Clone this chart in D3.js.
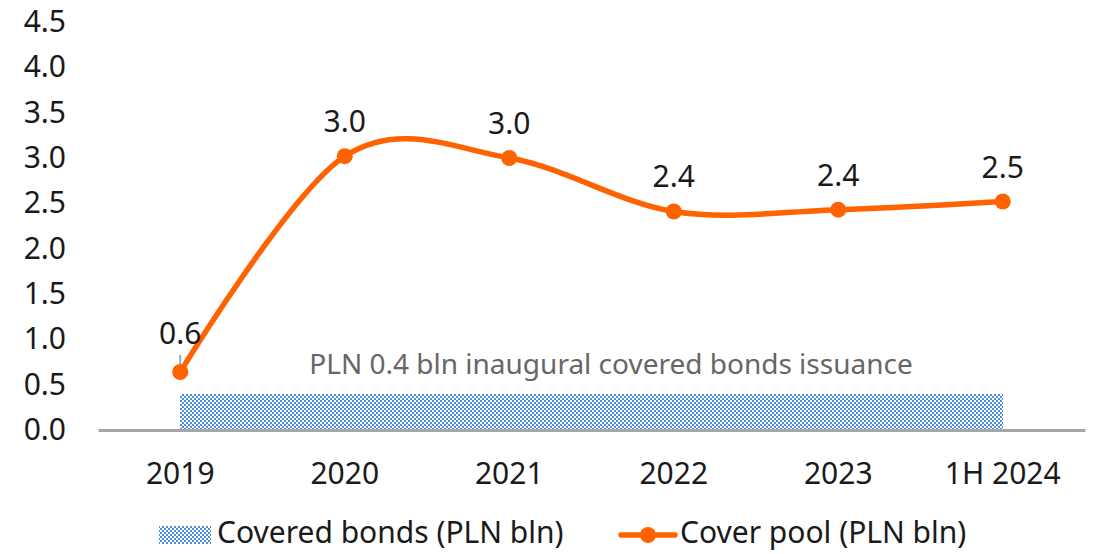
<!DOCTYPE html>
<html>
<head>
<meta charset="utf-8">
<script src="https://cdn.jsdelivr.net/npm/d3@7"></script>
<style>
  html, body { margin: 0; padding: 0; background: #fff; }
  svg { display: block; font-family: "Noto Sans", "Open Sans", sans-serif; }
</style>
</head>
<body>
<svg id="chart" width="1096" height="554"></svg>
<script>
// Cover pool vs covered bonds outstanding (PLN bln)
const categories = ["2019", "2020", "2021", "2022", "2023", "1H 2024"];
const coverPool = [0.64, 3.02, 3.0, 2.41, 2.43, 2.52];
const coveredBonds = [0.4, 0.4, 0.4, 0.4, 0.4, 0.4];
const yTicks = [0, 0.5, 1.0, 1.5, 2.0, 2.5, 3.0, 3.5, 4.0, 4.5];
const noteText = "PLN 0.4 bln inaugural covered bonds issuance";
const legendLabels = ["Covered bonds (PLN bln)", "Cover pool (PLN bln)"];

const ORANGE = "#FF6200";
const BLUE = "#4A8FD8";
const TEXT = "#1a1a1a";

const svg = d3.select("#chart");
const margin = { left: 98, right: 11 };
const W = 1096;

const x = d3.scaleBand().domain(categories).range([margin.left, W - margin.right]);
const xc = d => x(d) + x.bandwidth() / 2;
const y = d3.scaleLinear().domain([0, 4.5]).range([430, 22]);

// checkerboard fill for the covered bonds area (2px cells)
const defs = svg.append("defs");
const pat = defs.append("pattern")
  .attr("id", "checker").attr("patternUnits", "userSpaceOnUse")
  .attr("width", 4).attr("height", 4);
pat.append("rect").attr("width", 4).attr("height", 4).attr("fill", "#ffffff").attr("shape-rendering", "crispEdges");
pat.append("rect").attr("x", 0).attr("y", 0).attr("width", 2).attr("height", 2).attr("fill", BLUE).attr("shape-rendering", "crispEdges");
pat.append("rect").attr("x", 2).attr("y", 2).attr("width", 2).attr("height", 2).attr("fill", BLUE).attr("shape-rendering", "crispEdges");

// y axis labels
const yAxis = d3.axisLeft(y).tickValues(yTicks).tickFormat(d3.format(".1f")).tickSize(0).tickPadding(0);
const gy = svg.append("g").attr("transform", "translate(66,0)").call(yAxis);
gy.select(".domain").remove();
gy.selectAll("text").attr("font-size", 30).attr("fill", TEXT).attr("font-family", "Noto Sans, sans-serif");

// covered bonds area
const area = d3.area()
  .x(d => xc(d.c))
  .y0(y(0))
  .y1(d => y(d.v));
svg.append("path")
  .datum(categories.map((c, i) => ({ c, v: coveredBonds[i] })))
  .attr("d", area)
  .attr("fill", "url(#checker)")
  .attr("shape-rendering", "crispEdges");

// x axis
const xAxis = d3.axisBottom(x).tickSize(0).tickPadding(33);
const gx = svg.append("g").attr("transform", `translate(0,${y(0)})`).call(xAxis);
gx.select(".domain").attr("stroke", "#a6a6a6").attr("stroke-width", 3);
gx.selectAll("text").attr("font-size", 30).attr("fill", TEXT).attr("font-family", "Noto Sans, sans-serif");

// annotation
svg.append("text")
  .attr("x", 611).attr("y", 374)
  .attr("text-anchor", "middle")
  .attr("font-size", 28).attr("fill", "#666666")
  .text(noteText);

// cover pool line
const pts = categories.map((c, i) => ({ c, v: coverPool[i] }));
const line = d3.line().x(d => xc(d.c)).y(d => y(d.v)).curve(d3.curveCardinal.tension(0));
svg.append("path").datum(pts).attr("d", line)
  .attr("fill", "none").attr("stroke", ORANGE).attr("stroke-width", 5.5).attr("stroke-linecap", "round");

// leader for the first label
svg.append("line")
  .attr("x1", xc(categories[0])).attr("x2", xc(categories[0]))
  .attr("y1", y(coverPool[0]) - 17).attr("y2", y(coverPool[0]) - 1)
  .attr("stroke", "#a6a6a6").attr("stroke-width", 2);

svg.selectAll("circle.pt").data(pts).enter().append("circle")
  .attr("class", "pt")
  .attr("cx", d => xc(d.c)).attr("cy", d => y(d.v)).attr("r", 8)
  .attr("fill", ORANGE);

// value labels
const labelOffset = [-28, -24, -24, -24, -24, -24];
svg.selectAll("text.val").data(pts).enter().append("text")
  .attr("class", "val")
  .attr("x", d => xc(d.c))
  .attr("y", (d, i) => y(d.v) + labelOffset[i])
  .attr("text-anchor", "middle")
  .attr("font-size", 30).attr("fill", TEXT)
  .text(d => d3.format(".1f")(d.v));

// legend
const lg = svg.append("g");
lg.append("rect").attr("x", 159).attr("y", 526).attr("width", 52).attr("height", 18)
  .attr("fill", "url(#checker)").attr("shape-rendering", "crispEdges");
lg.append("text").attr("x", 217).attr("y", 543).attr("font-size", 30).attr("fill", TEXT).text(legendLabels[0]);
lg.append("line").attr("x1", 621).attr("x2", 675).attr("y1", 535).attr("y2", 535)
  .attr("stroke", ORANGE).attr("stroke-width", 5.5).attr("stroke-linecap", "round");
lg.append("circle").attr("cx", 648).attr("cy", 535).attr("r", 8).attr("fill", ORANGE);
lg.append("text").attr("x", 680).attr("y", 543).attr("font-size", 30).attr("fill", TEXT).text(legendLabels[1]);
</script>
</body>
</html>
